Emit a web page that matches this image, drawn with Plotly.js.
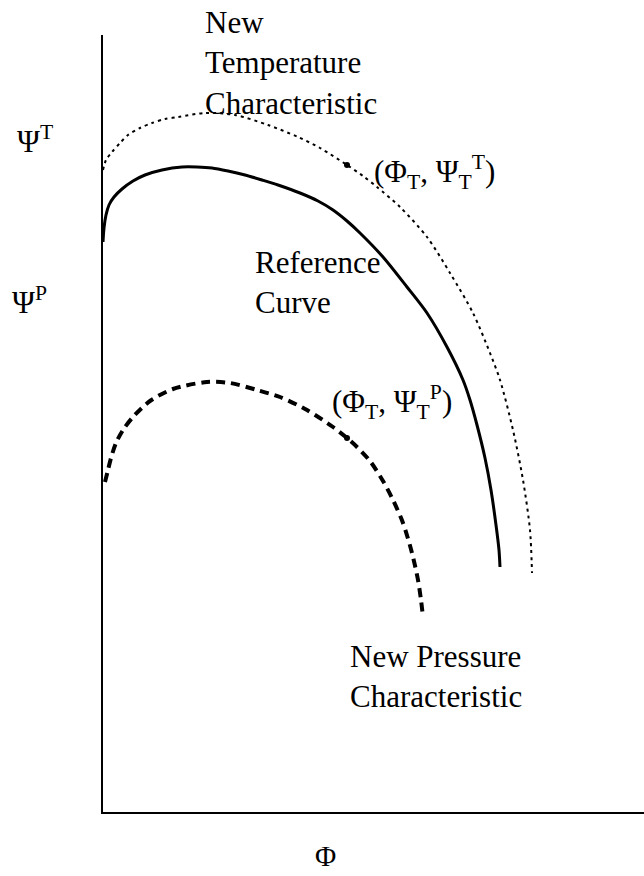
<!DOCTYPE html>
<html>
<head>
<meta charset="utf-8">
<script src="https://cdn.plot.ly/plotly-3.0.1.min.js"></script>
<style>
  html, body { margin: 0; padding: 0; background: #fff; }
  #chart { width: 644px; height: 876px; }
</style>
</head>
<body>
<div id="chart"></div>
<script>
// curves (Φ along x, Ψ up the y axis, arbitrary units)
const refPhi = [0, 1, 3, 6, 11, 19, 30, 42, 59, 79, 94, 109, 125, 142, 159, 175, 197, 215, 230, 244, 257, 280, 304, 324, 344, 360, 367, 374, 382, 388, 393, 396, 397]
const refPsi = [570, 584, 597, 607, 615, 623, 631, 637, 642, 645, 645, 644, 641, 637, 632, 627, 619, 611, 602, 591, 579, 555, 525, 499, 465, 432, 412, 387, 354, 322, 287, 262, 245]

const tempPhi = [0, 3, 9, 17, 25, 37, 49, 62, 75, 102, 132, 165, 195, 217, 244, 260, 274, 297, 324, 347, 370, 387, 397, 410, 420, 427, 429]
const tempPsi = [642, 652, 660, 669, 677, 684, 689, 693, 695, 699, 697, 687, 675, 664, 647, 636, 625, 605, 575, 539, 499, 459, 432, 382, 332, 282, 239]

const presPhi = [2, 5, 8, 13, 20, 30, 47, 70, 104, 127, 154, 177, 204, 230, 244, 254, 267, 280, 290, 300, 309, 315, 318, 320]
const presPsi = [330, 342, 354, 369, 382, 395, 411, 423, 430, 429, 422, 415, 402, 385, 374, 365, 351, 331, 312, 289, 259, 232, 212, 195]

// the two marked operating points (Φ_T, Ψ_T^T) and (Φ_T, Ψ_T^P)
const pointPhi = [244, 244]
const pointPsi = [647, 374]

const W = 644, H = 876
const M = {l: 103, r: 0, t: 35, b: 64}
const px = (x) => (x - M.l) / (W - M.l - M.r)
const py = (y) => (H - M.b - y) / (H - M.t - M.b)

const serif = 'Liberation Serif'

const label = (text, x, y, opts) => Object.assign({
  text: text,
  x: px(x), y: py(y),
  xref: 'paper', yref: 'paper',
  xanchor: 'left', yanchor: 'middle',
  align: 'left',
  showarrow: false,
  borderpad: 0,
  font: {family: serif, size: 31, color: '#000'}
}, opts || {})

const data = [
  {
    x: refPhi, y: refPsi,
    type: 'scatter', mode: 'lines',
    line: {color: '#000', width: 3, shape: 'spline', smoothing: 0.8},
    name: 'Reference Curve'
  },
  {
    x: tempPhi, y: tempPsi,
    type: 'scatter', mode: 'lines',
    line: {color: '#000', width: 2, dash: '3px,4px', shape: 'spline', smoothing: 0.8},
    name: 'New Temperature Characteristic'
  },
  {
    x: presPhi, y: presPsi,
    type: 'scatter', mode: 'lines',
    line: {color: '#000', width: 4, dash: '9px,6px', shape: 'spline', smoothing: 0.8},
    name: 'New Pressure Characteristic'
  },
  {
    x: pointPhi, y: pointPsi,
    type: 'scatter', mode: 'markers',
    marker: {color: '#000', size: 6},
    name: 'Points'
  }
]

const layout = {
  width: W, height: H,
  margin: M,
  paper_bgcolor: '#fff',
  plot_bgcolor: '#fff',
  showlegend: false,
  font: {family: serif, color: '#000'},
  xaxis: {
    range: [0, W - M.l - M.r],
    showline: true, linecolor: '#000', linewidth: 2,
    showgrid: false, zeroline: false, showticklabels: false, ticks: ''
  },
  yaxis: {
    range: [0, H - M.t - M.b],
    showline: true, linecolor: '#000', linewidth: 2,
    showgrid: false, zeroline: false, showticklabels: false, ticks: ''
  },
  annotations: [
    label('New<br>Temperature<br>Characteristic', 204, 63),
    label('Ψ<sup>T</sup>', 16, 140),
    label('Ψ<sup>P</sup>', 11, 300),
    label('(Φ<sub>T</sub>, Ψ<sub>T</sub><sup>T</sup>)', 373, 172),
    label('Reference<br>Curve', 254, 282),
    label('(Φ<sub>T</sub>, Ψ<sub>T</sub><sup>P</sup>)', 331, 402),
    label('New Pressure<br>Characteristic', 349, 676),
    label('Φ', 325, 856, {xanchor: 'center', font: {family: serif, size: 29, color: '#000'}})
  ]
}

Plotly.newPlot('chart', data, layout, {displayModeBar: false, staticPlot: true})
</script>
</body>
</html>
